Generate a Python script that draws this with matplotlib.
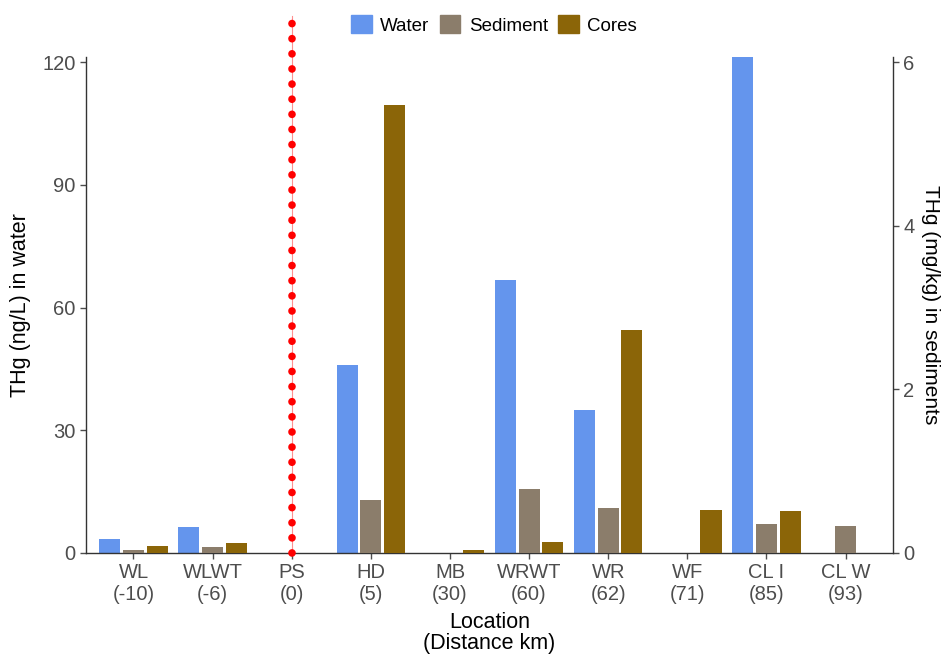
import numpy as np
import matplotlib
matplotlib.use('Agg')
import matplotlib.pyplot as plt
from matplotlib.patches import Patch

plt.rcParams['font.family'] = ['Liberation Sans', 'DejaVu Sans']

# data
locations = ['WL\n(-10)', 'WLWT\n(-6)', 'PS\n(0)', 'HD\n(5)', 'MB\n(30)',
             'WRWT\n(60)', 'WR\n(62)', 'WF\n(71)', 'CL I\n(85)', 'CL W\n(93)']
water = [3.5, 6.3, np.nan, 46.0, np.nan, 66.7, 35.0, np.nan, 121.2, np.nan]      # ng/L
sediment = [0.037, 0.073, np.nan, 0.65, np.nan, 0.78, 0.55, np.nan, 0.36, 0.33]  # mg/kg
cores = [0.085, 0.12, np.nan, 5.48, 0.033, 0.13, 2.73, 0.53, 0.51, np.nan]       # mg/kg
source_site = 'PS\n(0)'

c_water = '#6495ED'
c_sed = '#8B7D6B'
c_core = '#8B6508'
grey = '#4D4D4D'

fig = plt.figure(figsize=(9.47, 6.56), dpi=100)
ax = fig.add_axes([86/947, 1-553/656, (893-86)/947, (553-57)/656])
ax2 = ax.twinx()

x = np.arange(len(locations))
w = 0.8/3
ax.bar(x - 0.3, water, width=w, color=c_water, zorder=2)
ax2.bar(x, sediment, width=w, color=c_sed, zorder=2)
ax2.bar(x + 0.3, cores, width=w, color=c_core, zorder=2)

ax.set_xlim(-0.6, len(locations) - 1 + 0.6)
ax.set_ylim(0, 121.3)
ax2.set_ylim(0, 121.3/20)
ax.set_yticks([0, 30, 60, 90, 120])
ax2.set_yticks([0, 2, 4, 6])
ax.set_xticks(x)
ax.set_xticklabels(locations)

# red dotted line at the point source, running up past the panel
ps = locations.index(source_site)
top = (553-16)/(553-57)
ax.axvline(ps, ymin=0, ymax=top, clip_on=False, color='#FF9090', lw=0.8, zorder=3)
ax.axvline(ps, ymin=0, ymax=top, clip_on=False, color='red', lw=5.5,
           linestyle=(0, (0.01, 1.97)), dash_capstyle='round', zorder=4)

for a in (ax, ax2):
    a.spines['top'].set_visible(False)
    for s in ('left', 'right', 'bottom'):
        a.spines[s].set_color('#333333')
        a.spines[s].set_linewidth(1.0)
    a.tick_params(colors=grey, labelcolor=grey, labelsize=14.5, length=4, width=1)
ax.spines['right'].set_visible(False)
ax2.spines['left'].set_visible(False)
ax2.spines['bottom'].set_visible(False)
ax.tick_params(axis='x', pad=3)

ax.set_ylabel('THg (ng/L) in water', fontsize=15.5, color='black', labelpad=8)
ax2.set_ylabel('THg (mg/kg) in sediments', fontsize=15, color='black',
               rotation=270, labelpad=18)
ax.set_xlabel('Location\n(Distance km)', fontsize=15.5, color='black', labelpad=6,
              linespacing=1.0)

handles = [Patch(color=c_water, label='Water'), Patch(color=c_sed, label='Sediment'),
           Patch(color=c_core, label='Cores')]
fig.legend(handles=handles, loc='center', bbox_to_anchor=(494/947, 1-25/656), ncol=3,
           frameon=False, fontsize=13.5, handlelength=1.1, handleheight=1.1,
           handletextpad=0.45, columnspacing=0.55)

fig.savefig('out.png', dpi=100)
